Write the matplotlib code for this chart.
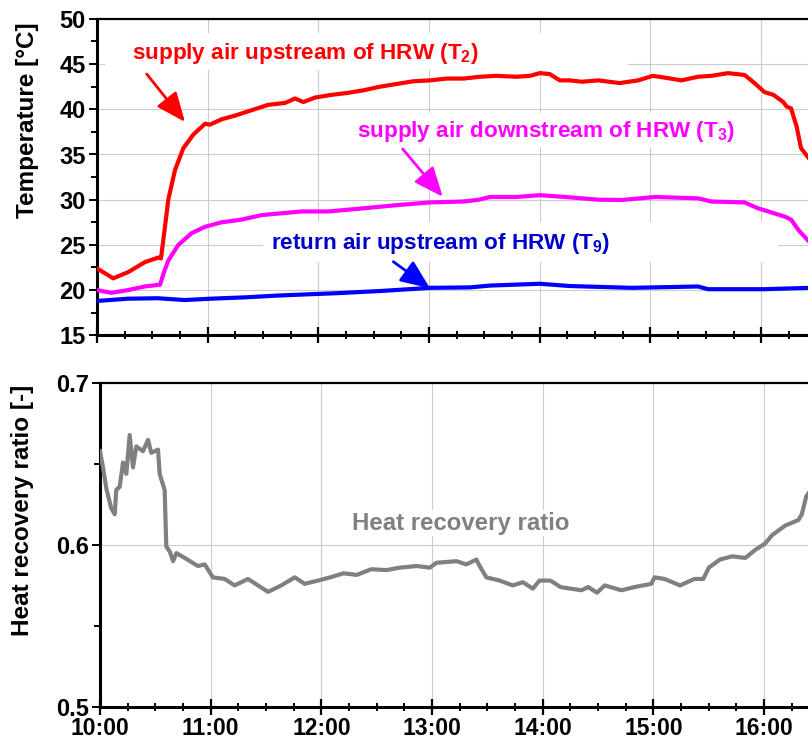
import matplotlib
matplotlib.use("Agg")
import matplotlib.pyplot as plt
from matplotlib.patches import Rectangle
from matplotlib.ticker import MultipleLocator, FuncFormatter

plt.rcParams['font.family'] = ['Liberation Sans', 'DejaVu Sans']
plt.rcParams['font.weight'] = 'bold'
plt.rcParams['mathtext.fontset'] = 'custom'
plt.rcParams['mathtext.rm'] = 'Liberation Sans:bold'
plt.rcParams['mathtext.bf'] = 'Liberation Sans:bold'

# time in decimal hours of the day
t2_time = [10.0, 10.147, 10.283, 10.434, 10.554, 10.578, 10.614, 10.644, 10.705, 10.78, 10.87,
           10.976, 11.02, 11.126, 11.247, 11.397, 11.548, 11.698, 11.789, 11.864, 11.969,
           12.12, 12.256, 12.406, 12.556, 12.707, 12.857, 13.008, 13.159, 13.31, 13.46, 13.61,
           13.79, 13.91, 14.0, 14.09, 14.18, 14.27, 14.38, 14.53, 14.72, 14.89, 15.02, 15.13,
           15.28, 15.43, 15.55, 15.70, 15.85, 15.94, 16.03, 16.11, 16.20, 16.23, 16.27, 16.32,
           16.36, 16.43]
t2_temp = [22.4, 21.3, 22.0, 23.1, 23.6, 23.5, 27.0, 30.0, 33.3, 35.7, 37.2,
           38.4, 38.3, 38.9, 39.3, 39.9, 40.5, 40.7, 41.2, 40.8, 41.3,
           41.6, 41.8, 42.1, 42.5, 42.8, 43.1, 43.2, 43.4, 43.4, 43.6, 43.7,
           43.6, 43.7, 44.0, 43.9, 43.2, 43.2, 43.05, 43.2, 42.9, 43.2, 43.7, 43.5,
           43.2, 43.6, 43.7, 44.0, 43.8, 42.9, 41.9, 41.6, 40.8, 40.3, 40.1, 38.1,
           35.7, 34.6]

t3_time = [10.0, 10.13, 10.28, 10.43, 10.57, 10.60, 10.645, 10.735, 10.855, 10.976, 11.126,
           11.307, 11.488, 11.669, 11.85, 12.09, 12.41, 12.71, 13.01, 13.31, 13.45, 13.55,
           13.79, 14.0, 14.23, 14.53, 14.74, 15.04, 15.43, 15.55, 15.85, 15.97, 16.09,
           16.22, 16.27, 16.34, 16.43]
t3_temp = [20.0, 19.7, 20.0, 20.4, 20.6, 21.8, 23.3, 25.0, 26.3, 27.0, 27.5,
           27.8, 28.3, 28.5, 28.7, 28.7, 29.05, 29.4, 29.7, 29.8, 30.0, 30.3,
           30.3, 30.5, 30.3, 30.0, 29.97, 30.3, 30.15, 29.8, 29.7, 29.05, 28.6,
           28.1, 27.8, 26.6, 25.4]

t9_time = [10.0, 10.28, 10.55, 10.79, 11.03, 11.34, 11.64, 11.94, 12.15, 12.56, 13.01,
           13.37, 13.55, 14.0, 14.27, 14.83, 15.43, 15.52, 16.03, 16.43]
t9_temp = [18.8, 19.05, 19.1, 18.9, 19.05, 19.2, 19.4, 19.55, 19.65, 19.9, 20.25,
           20.3, 20.5, 20.7, 20.45, 20.25, 20.4, 20.1, 20.1, 20.25]

hr_time = [10.0, 10.027, 10.057, 10.10, 10.133, 10.147, 10.178, 10.208, 10.238, 10.268,
           10.298, 10.328, 10.388, 10.434, 10.463, 10.524, 10.539, 10.584, 10.599, 10.63,
           10.66, 10.69, 10.765, 10.885, 10.946, 11.02, 11.126, 11.216, 11.337, 11.518,
           11.638, 11.759, 11.849, 11.97, 12.08, 12.20, 12.32, 12.45, 12.59, 12.71, 12.86,
           12.98, 13.04, 13.22, 13.31, 13.40, 13.43, 13.49, 13.61, 13.73, 13.82, 13.91,
           13.97, 14.07, 14.16, 14.25, 14.35, 14.41, 14.49, 14.56, 14.71, 14.83, 14.98,
           15.01, 15.10, 15.24, 15.37, 15.45, 15.50, 15.60, 15.71, 15.83, 15.92, 16.01,
           16.07, 16.19, 16.31, 16.34, 16.38, 16.40]
hr_ratio = [0.658, 0.648, 0.635, 0.623, 0.619, 0.634, 0.636, 0.651, 0.644, 0.668,
            0.648, 0.661, 0.658, 0.665, 0.657, 0.659, 0.644, 0.634, 0.599, 0.596,
            0.590, 0.595, 0.592, 0.587, 0.588, 0.580, 0.579, 0.575, 0.579, 0.571,
            0.575, 0.580, 0.576, 0.578, 0.580, 0.5825, 0.5815, 0.585, 0.5845, 0.586, 0.587,
            0.586, 0.589, 0.590, 0.588, 0.591, 0.587, 0.580, 0.578, 0.575, 0.577, 0.573,
            0.578, 0.578, 0.574, 0.573, 0.572, 0.574, 0.5705, 0.575, 0.572, 0.574, 0.576,
            0.580, 0.579, 0.575, 0.579, 0.579, 0.586, 0.591, 0.593, 0.592, 0.597, 0.601,
            0.606, 0.612, 0.6155, 0.619, 0.630, 0.632]

RED = '#ff0000'
MAGENTA = '#ff00ff'
BLUE = '#0000ff'
BLUE_TXT = '#0000cc'
GRAY = '#808080'

W, H = 808, 745
fig = plt.figure(figsize=(W / 100, H / 100), dpi=100)


def px_axes(left, top, bottom):
    # pixel box (right edge = figure edge) -> figure fraction
    return [left / W, 1 - bottom / H, 1 - left / W, (bottom - top) / H]


ax1 = fig.add_axes(px_axes(97, 18.9, 335.3))
ax2 = fig.add_axes(px_axes(100, 383.3, 706.7))

for ax in (ax1, ax2):
    ax.set_axisbelow(True)
    ax.grid(True, which='major', color='#cccccc', lw=0.8)
    ax.spines['right'].set_visible(False)
    ax.spines['left'].set_linewidth(2.2)
    ax.spines['bottom'].set_linewidth(2.2)
    ax.spines['top'].set_linewidth(1.6)
    ax.xaxis.set_major_locator(MultipleLocator(1))
    ax.xaxis.set_minor_locator(MultipleLocator(0.25))
    ax.xaxis.set_major_formatter(FuncFormatter(lambda v, p: '%d:00' % round(v)))
    ax.tick_params(axis='x', which='major', direction='inout', length=11, width=1.6,
                   labelsize=16.5, pad=2)
    ax.tick_params(axis='x', which='minor', direction='inout', length=6, width=1.4)
    ax.tick_params(axis='y', which='major', direction='out', length=6, width=1.4,
                   labelsize=17, pad=2)
    ax.tick_params(axis='y', which='minor', direction='out', length=4, width=1.4)
    ax.tick_params(top=False, right=False)

# ---- top panel: temperatures
ax1.plot(t2_time, t2_temp, color=RED, lw=3, zorder=3)
ax1.plot(t3_time, t3_temp, color=MAGENTA, lw=3, zorder=3)
ax1.plot(t9_time, t9_temp, color=BLUE, lw=3, zorder=3)
ax1.set_xlim(10, 16.423)
ax1.set_ylim(15, 50)
ax1.yaxis.set_major_locator(MultipleLocator(5))
ax1.yaxis.set_minor_locator(MultipleLocator(2.5))
ax1.tick_params(axis='x', labelbottom=False)
ax1.set_ylabel('Temperature [°C]', fontsize=17.5, fontweight='bold')
ax1.yaxis.set_label_coords(-0.082, 0.68)

# white label boxes hiding the grid (as in the original)
for (x0, x1, y0, y1) in [(10.072, 14.797, 44.35, 48.44),
                         (12.195, 15.854, 35.8, 39.6),
                         (11.5, 16.15, 23.1, 27.5)]:
    ax1.add_patch(Rectangle((x0, y0), x1 - x0, y1 - y0, facecolor='white',
                            edgecolor='none', zorder=1))

labels = [('supply air upstream of HRW ($\\mathbf{T_2}$)', RED, RED, 10.32, 46.2,
           (10.449, 43.9), (10.795, 38.6)),
          ('supply air downstream of HRW ($\\mathbf{T_3}$)', MAGENTA, MAGENTA, 12.35, 37.5,
           (12.762, 35.6), (13.123, 30.33)),
          ('return air upstream of HRW ($\\mathbf{T_9}$)', BLUE_TXT, BLUE, 11.57, 25.1,
           (12.677, 23.14), (13.008, 20.2))]
for txt, tcol, acol, tx, ty, tail, tip in labels:
    ax1.text(tx, ty, txt, color=tcol, fontsize=16.2, fontweight='bold',
             ha='left', va='center', zorder=4)
    ax1.annotate('', xy=tip, xytext=tail, zorder=5,
                 arrowprops=dict(arrowstyle='-|>,head_length=0.9,head_width=0.38',
                                 mutation_scale=20, color=acol, lw=2,
                                 shrinkA=0, shrinkB=0))

# ---- bottom panel: heat recovery ratio
ax2.plot(hr_time, hr_ratio, color=GRAY, lw=3, zorder=3)
ax2.set_xlim(10, 16.396)
ax2.set_ylim(0.5, 0.7)
ax2.yaxis.set_major_locator(MultipleLocator(0.1))
ax2.yaxis.set_minor_locator(MultipleLocator(0.05))
ax2.yaxis.set_major_formatter(FuncFormatter(lambda v, p: '%.1f' % v))
ax2.set_ylabel('Heat recovery ratio [-]', fontsize=17.5, fontweight='bold')
ax2.yaxis.set_label_coords(-0.093, 0.608)
ax2.text(12.28, 0.6136, 'Heat recovery ratio', color=GRAY, fontsize=17.3,
         fontweight='bold', ha='left', va='center', zorder=4,
         bbox=dict(facecolor='white', edgecolor='none', pad=1))

for ax in (ax1, ax2):
    for lab in ax.get_xticklabels() + ax.get_yticklabels():
        lab.set_fontweight('bold')

fig.savefig('out.png', dpi=100)
